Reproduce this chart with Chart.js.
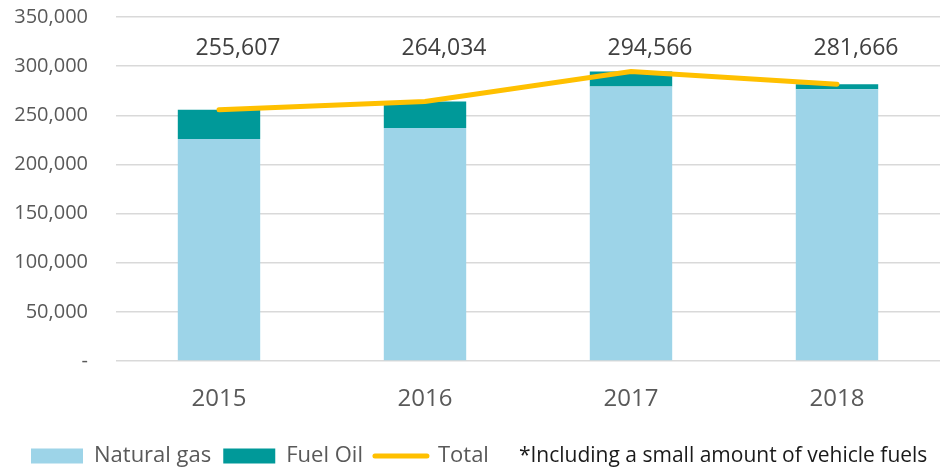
<!DOCTYPE html>
<html>
<head>
<meta charset="utf-8">
<script src="https://cdn.jsdelivr.net/npm/chart.js@4.4.1/dist/chart.umd.min.js"></script>
<style>
  html, body { margin: 0; padding: 0; background: #fff; }
  #wrap { width: 940px; height: 467px; }
</style>
</head>
<body>
<div id="wrap"><canvas id="fig" width="940" height="467"></canvas></div>
<script>
// ----- data -----
const years = ['2015', '2016', '2017', '2018'];
const naturalGas = [225900, 237100, 279300, 276500];
const fuelOil = [29707, 26934, 15266, 5166];
const totals = [255607, 264034, 294566, 281666];
const yTicks = [0, 50000, 100000, 150000, 200000, 250000, 300000, 350000];
const noteText = '*Including a small amount of vehicle fuels';

const FONT = '"Open Sans", "Noto Sans", sans-serif';
const colGas = '#9DD4E8';
const colOil = '#009999';
const colTotal = '#FFC000';

const fmt = v => v === 0 ? '-' : v.toLocaleString('en-US');

// 총계 라벨 (막대 위)
const totalLabels = {
  id: 'totalLabels',
  afterDatasetsDraw(chart) {
    const { ctx, scales: { x, y } } = chart;
    ctx.save();
    ctx.font = `23px ${FONT}`;
    ctx.fillStyle = '#404040';
    ctx.textAlign = 'center';
    ctx.textBaseline = 'middle';
    totals.forEach((v, i) => {
      ctx.fillText(fmt(v), x.getPixelForValue(i) + 19, y.getPixelForValue(318000));
    });
    ctx.restore();
  }
};

// 범례를 오른쪽으로 조금 밀기 + 주석
const legendNote = {
  id: 'legendNote',
  afterLayout(chart) {
    const lg = chart.legend;
    const dx = 19 - lg.left;
    lg.left += dx;
    (lg.legendHitBoxes || []).forEach(h => { h.left += dx; });
  },
  afterDraw(chart) {
    const boxes = chart.legend.legendHitBoxes;
    if (!boxes || !boxes.length) return;
    const last = boxes[boxes.length - 1];
    const { ctx } = chart;
    ctx.save();
    ctx.font = `21px ${FONT}`;
    ctx.fillStyle = '#1a1a1a';
    ctx.textAlign = 'left';
    ctx.textBaseline = 'middle';
    ctx.fillText(noteText, last.left + last.width + 30, last.top + last.height / 2);
    ctx.restore();
  }
};

new Chart(document.getElementById('fig'), {
  type: 'bar',
  data: {
    labels: years,
    datasets: [
      {
        type: 'line', label: 'Total', data: totals, order: 0, stack: 'line',
        borderColor: colTotal, backgroundColor: colTotal, borderWidth: 5,
        borderCapStyle: 'round', pointRadius: 0, tension: 0
      },
      { label: 'Natural gas', data: naturalGas, backgroundColor: colGas, order: 1, stack: 'bars' },
      { label: 'Fuel Oil', data: fuelOil, backgroundColor: colOil, order: 1, stack: 'bars' }
    ]
  },
  options: {
    responsive: false,
    devicePixelRatio: 1,
    animation: false,
    layout: { padding: { left: 0, right: 0, top: 17, bottom: -10 } },
    datasets: { bar: { categoryPercentage: 1, barPercentage: 0.4 } },
    scales: {
      x: {
        stacked: true,
        grid: { display: false },
        border: { display: false },
        afterFit(scale) { scale.height = 72; },
        ticks: { color: '#595959', font: { family: FONT, size: 24 }, padding: 16 }
      },
      y: {
        stacked: true,
        min: 0, max: 350000,
        afterBuildTicks(scale) { scale.ticks = yTicks.map(v => ({ value: v })); },
        afterFit(scale) { scale.width = 116; scale.paddingTop = 0; scale.paddingBottom = 0; },
        grid: { color: '#D9D9D9', lineWidth: 1.5, drawTicks: false },
        border: { display: false },
        ticks: { color: '#595959', font: { family: FONT, size: 20 }, padding: 28, callback: v => fmt(v) }
      }
    },
    plugins: {
      tooltip: { enabled: false },
      legend: {
        position: 'bottom',
        align: 'start',
        labels: {
          color: '#595959',
          font: { family: FONT, size: 22 },
          padding: 12,
          usePointStyle: true,
          pointStyleWidth: 52,
          boxHeight: 15,
          generateLabels(chart) {
            const order = [1, 2, 0];
            return order.map(i => {
              const ds = chart.data.datasets[i];
              const isLine = ds.type === 'line';
              return {
                text: ds.label,
                datasetIndex: i,
                fillStyle: ds.backgroundColor,
                strokeStyle: isLine ? colTotal : ds.backgroundColor,
                lineWidth: isLine ? 5 : 0,
                lineCap: 'round',
                pointStyle: isLine ? 'line' : 'rect',
                fontColor: '#595959',
                hidden: false
              };
            });
          }
        }
      }
    }
  },
  plugins: [totalLabels, legendNote]
});
</script>
</body>
</html>
